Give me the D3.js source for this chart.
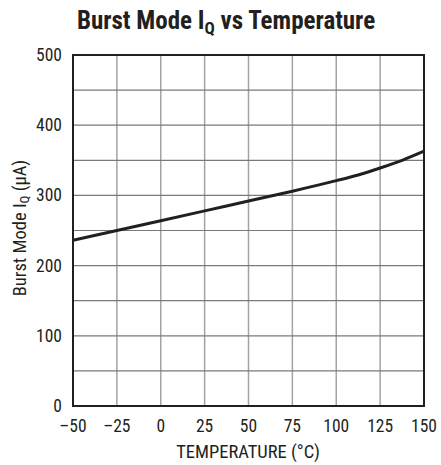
<!DOCTYPE html>
<html>
<head>
<meta charset="utf-8">
<script src="https://cdn.jsdelivr.net/npm/d3@7"></script>
<style>
  body { margin: 0; background: #fff; }
  text { font-family: "Liberation Sans Narrow", "Roboto Condensed", "Arial Narrow", Arial, sans-serif; fill: #231f20; }
</style>
</head>
<body>
<div id="chart"></div>
<script>
// curve
var temps = [-50, -25, 0, 25, 50, 75, 100, 112.5, 125, 137.5, 150];
var iq = [236, 250, 264, 278, 292, 306, 321, 329, 339, 350, 363];

var xTicks = [-50, -25, 0, 25, 50, 75, 100, 125, 150];
var yTicks = [0, 100, 200, 300, 400, 500];
var yGrid = [50, 100, 150, 200, 250, 300, 350, 400, 450];

var W = 441, H = 465;
var plotL = 73, plotR = 424, plotT = 55, plotB = 406;

var svg = d3.select('#chart').append('svg')
  .attr('width', W)
  .attr('height', H);

var x = d3.scaleLinear().domain([-50, 150]).range([plotL, plotR]);
var y = d3.scaleLinear().domain([0, 500]).range([plotB, plotT]);

// grid
svg.append('g').selectAll('line')
  .data(xTicks.slice(1, -1))
  .enter().append('line')
  .attr('x1', function(d) { return x(d); })
  .attr('x2', function(d) { return x(d); })
  .attr('y1', plotT).attr('y2', plotB)
  .attr('stroke', '#a3a3a3').attr('stroke-width', 1.5);

svg.append('g').selectAll('line')
  .data(yGrid)
  .enter().append('line')
  .attr('y1', function(d) { return y(d); })
  .attr('y2', function(d) { return y(d); })
  .attr('x1', plotL).attr('x2', plotR)
  .attr('stroke', '#7a7a7a').attr('stroke-width', 1.2);

// frame
svg.append('rect')
  .attr('x', plotL).attr('y', plotT)
  .attr('width', plotR - plotL).attr('height', plotB - plotT)
  .attr('fill', 'none').attr('stroke', '#231f20').attr('stroke-width', 2);

// curve
var line = d3.line()
  .x(function(d, i) { return x(temps[i]); })
  .y(function(d) { return y(d); })
  .curve(d3.curveMonotoneX);

svg.append('path')
  .datum(iq)
  .attr('d', line)
  .attr('fill', 'none')
  .attr('stroke', '#231f20')
  .attr('stroke-width', 3);

// tick labels
svg.append('g').selectAll('text')
  .data(xTicks)
  .enter().append('text')
  .attr('x', function(d) { return x(d); })
  .attr('y', 432)
  .attr('text-anchor', 'middle')
  .attr('font-size', 17.5)
  .text(function(d) { return d < 0 ? '\u2013' + Math.abs(d) : d; });

svg.append('g').selectAll('text')
  .data(yTicks)
  .enter().append('text')
  .attr('x', 62)
  .attr('y', function(d) { return y(d) + 6; })
  .attr('text-anchor', 'end')
  .attr('font-size', 17.5)
  .text(function(d) { return d; });

// axis titles
svg.append('text')
  .attr('x', 248)
  .attr('y', 458)
  .attr('text-anchor', 'middle')
  .attr('font-size', 18.5)
  .text('TEMPERATURE (\u00b0C)');

var yt = svg.append('text')
  .attr('transform', 'translate(26,228) rotate(-90)')
  .attr('text-anchor', 'middle')
  .attr('font-size', 18.5);
yt.append('tspan').text('Burst Mode I');
yt.append('tspan').attr('font-size', 13).attr('dy', 3).text('Q');
yt.append('tspan').attr('dy', -3).text(' (\u03bcA)');

// title
var tt = svg.append('text')
  .attr('x', 226)
  .attr('y', 29)
  .attr('text-anchor', 'middle')
  .attr('font-size', 25)
  .attr('font-weight', 'bold');
tt.append('tspan').text('Burst Mode I');
tt.append('tspan').attr('font-size', 17).attr('dy', 5).text('Q');
tt.append('tspan').attr('dy', -5).text(' vs Temperature');
</script>
</body>
</html>
